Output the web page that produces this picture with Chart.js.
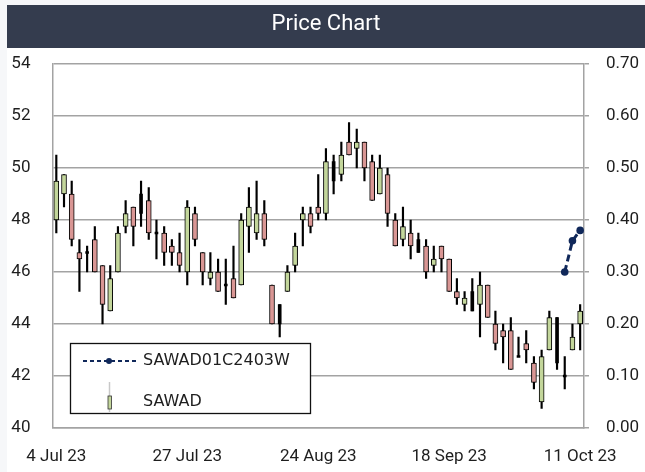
<!DOCTYPE html>
<html>
<head>
<meta charset="utf-8">
<script src="https://cdn.jsdelivr.net/npm/chart.js@4.4.0/dist/chart.umd.min.js"></script>
<style>
html,body{margin:0;padding:0;background:#f6f7f9;width:645px;height:472px;overflow:hidden}
#wrap{position:absolute;left:7px;top:5px;width:638px;height:467px;background:#ffffff}
canvas{display:block}
</style>
</head>
<body>
<div id="wrap"><canvas id="c" width="638" height="467" style="width:638px;height:467px"></canvas></div>
<script>
// ---------------- DATA ----------------
const dates = [
  '4 Jul 23','5 Jul 23','6 Jul 23','7 Jul 23','10 Jul 23','11 Jul 23','12 Jul 23','13 Jul 23','14 Jul 23',
  '17 Jul 23','18 Jul 23','19 Jul 23','20 Jul 23','21 Jul 23','24 Jul 23','25 Jul 23','26 Jul 23','27 Jul 23',
  '31 Jul 23','2 Aug 23','3 Aug 23','4 Aug 23','7 Aug 23','8 Aug 23','9 Aug 23','10 Aug 23','11 Aug 23',
  '15 Aug 23','16 Aug 23','17 Aug 23','18 Aug 23','21 Aug 23','22 Aug 23','23 Aug 23','24 Aug 23','25 Aug 23',
  '28 Aug 23','29 Aug 23','30 Aug 23','31 Aug 23','1 Sep 23','4 Sep 23','5 Sep 23','6 Sep 23','7 Sep 23',
  '8 Sep 23','11 Sep 23','12 Sep 23','13 Sep 23','14 Sep 23','15 Sep 23','18 Sep 23','19 Sep 23','20 Sep 23',
  '21 Sep 23','22 Sep 23','25 Sep 23','26 Sep 23','27 Sep 23','28 Sep 23','29 Sep 23','2 Oct 23','3 Oct 23',
  '4 Oct 23','5 Oct 23','6 Oct 23','9 Oct 23','10 Oct 23','11 Oct 23'
];
const tickLabels = ['4 Jul 23','27 Jul 23','24 Aug 23','18 Sep 23','11 Oct 23'];

const opens = [
  48.00,49.00,49.00,46.75,46.75,47.25,46.25,44.50,46.00,47.75,48.50,49.00,48.75,47.50,47.50,47.00,46.75,46.00,
  48.25,46.75,45.75,46.00,45.50,45.75,45.50,47.75,47.50,48.25,45.50,44.75,45.25,46.25,48.00,48.25,48.50,48.25,
  50.25,49.75,51.00,50.75,51.00,50.25,49.00,49.75,48.00,47.25,47.50,47.25,47.00,46.25,47.00,46.50,45.25,44.75,
  45.25,44.75,45.50,44.00,43.75,43.75,42.75,43.25,42.50,41.00,43.00,44.25,42.00,43.00,44.00
];
const highs = [
  50.50,49.75,49.50,47.25,47.00,47.75,46.25,46.25,47.75,48.75,48.50,49.50,49.25,48.00,47.75,47.25,47.50,48.75,
  48.50,46.75,46.75,46.50,46.50,47.00,48.25,49.25,49.50,48.75,45.50,44.75,46.25,47.50,48.50,48.50,49.75,50.75,
  50.50,51.00,51.75,51.50,51.00,50.50,50.50,50.00,48.25,48.50,48.00,47.50,47.25,47.00,47.00,46.50,45.75,45.25,
  45.75,46.00,45.50,44.50,44.00,44.25,43.50,43.75,42.75,43.00,44.50,44.25,42.75,44.00,44.75
];
const lows = [
  47.50,48.50,47.00,45.25,46.00,46.00,44.00,44.50,46.00,47.50,47.00,47.75,47.25,46.50,46.25,46.25,46.00,45.50,
  47.00,45.50,45.50,45.25,44.75,45.00,45.50,46.75,47.25,47.00,44.00,43.50,45.25,46.00,47.00,47.50,48.00,48.00,
  49.00,49.50,50.50,50.00,49.50,48.75,49.00,47.75,47.00,47.00,46.50,46.75,45.75,46.00,46.00,45.25,44.75,44.50,
  44.50,43.50,44.25,43.00,42.50,42.25,42.75,42.50,41.50,40.75,43.00,42.25,41.50,43.00,43.00
];
const closes = [
  49.50,49.75,47.25,46.50,46.75,46.00,44.75,45.75,47.50,48.25,47.75,48.25,47.50,47.50,46.75,46.75,46.25,48.50,
  47.25,46.00,46.00,45.25,45.50,45.00,48.00,48.50,48.25,47.25,44.00,44.00,46.00,47.00,48.25,47.75,48.25,50.25,
  49.50,50.50,50.50,51.00,50.00,48.75,50.00,48.25,47.00,47.75,47.00,46.75,46.00,46.50,46.50,45.25,45.00,45.00,
  44.50,45.50,44.25,43.25,43.50,42.25,42.75,43.00,41.75,42.75,44.25,42.50,42.00,43.50,44.50
];

const warrantDates = ['9 Oct 23','10 Oct 23','11 Oct 23'];
const warrantValues = [0.30,0.36,0.38];

const priceMin = 40, priceMax = 54, priceStep = 2;
const wMin = 0, wMax = 0.7, wStep = 0.1;

// ---------------- STYLES ----------------
const UP = '#c3d69b', DOWN = '#d99694', NAVY = '#10285a', GRID = '#a3a3a3', TXT = '#1e1e1e';
const darkCandles = [4, 11, 13, 22, 29, 36, 47, 54, 60, 65, 66]; // drawn as solid black narrow bodies

function bodyRange(i){
  const o = opens[i], c = closes[i];
  if (o === c) return [o - 0.04, o + 0.04];
  return [o, c];
}
const bodyNormal = dates.map((d,i) => darkCandles.includes(i) ? null : bodyRange(i));
const bodyDark = dates.map((d,i) => darkCandles.includes(i) ? bodyRange(i) : null);
const bodyColors = dates.map((d,i) => closes[i] >= opens[i] ? UP : DOWN);
const wicks = dates.map((d,i) => [lows[i], highs[i]]);

const headerPlugin = {
  id: 'header',
  beforeDraw(chart){
    const ctx = chart.ctx;
    ctx.save();
    ctx.fillStyle = '#343c4e';
    ctx.fillRect(0, 0, chart.width, 43);
    ctx.restore();
  }
};

const legendPlugin = {
  id: 'boxLegend',
  afterDraw(chart){
    const ctx = chart.ctx;
    const ds = chart.data.datasets;
    ctx.save();
    const bx = 63.5, by = 338.5, bw = 240, bh = 70;
    ctx.fillStyle = '#ffffff';
    ctx.fillRect(bx, by, bw, bh);
    ctx.strokeStyle = '#111';
    ctx.lineWidth = 1.3;
    ctx.strokeRect(bx, by, bw, bh);
    ctx.strokeStyle = NAVY;
    ctx.lineWidth = 2;
    ctx.setLineDash([4, 3]);
    ctx.beginPath(); ctx.moveTo(76, 356); ctx.lineTo(129, 356); ctx.stroke();
    ctx.setLineDash([]);
    ctx.fillStyle = NAVY;
    ctx.beginPath(); ctx.arc(102, 356, 3, 0, Math.PI * 2); ctx.fill();
    ctx.font = '16px "DejaVu Sans"';
    ctx.fillStyle = TXT;
    ctx.textBaseline = 'middle';
    ctx.textAlign = 'left';
    ctx.fillText(ds[0].label, 136, 356);
    ctx.strokeStyle = '#c8c8c8';
    ctx.lineWidth = 1.5;
    ctx.beginPath(); ctx.moveTo(102.5, 377); ctx.lineTo(102.5, 407); ctx.stroke();
    ctx.fillStyle = UP;
    ctx.fillRect(101, 391, 3.5, 13);
    ctx.strokeStyle = '#333';
    ctx.lineWidth = 0.8;
    ctx.strokeRect(101, 391, 3.5, 13);
    ctx.fillStyle = TXT;
    ctx.fillText(ds[1].label, 136, 397);
    ctx.restore();
  }
};

new Chart(document.getElementById('c'), {
  data: {
    labels: dates,
    datasets: [
      {
        type: 'line',
        label: 'SAWAD01C2403W',
        yAxisID: 'y2',
        data: warrantDates.map((d,i) => ({x: d, y: warrantValues[i]})),
        borderColor: NAVY,
        backgroundColor: NAVY,
        borderWidth: 3,
        borderDash: [7, 4],
        pointRadius: 3.8,
        pointBackgroundColor: NAVY,
        pointBorderWidth: 0,
        order: 0
      },
      {
        type: 'bar',
        label: 'SAWAD',
        yAxisID: 'y',
        data: bodyNormal,
        backgroundColor: bodyColors,
        borderColor: '#000',
        borderWidth: 1,
        borderSkipped: false,
        barThickness: 5,
        grouped: false,
        order: 1
      },
      {
        type: 'bar',
        label: 'SAWAD dark',
        yAxisID: 'y',
        data: bodyDark,
        backgroundColor: '#000',
        borderWidth: 0,
        barThickness: 3,
        grouped: false,
        order: 2
      },
      {
        type: 'bar',
        label: 'SAWAD range',
        yAxisID: 'y',
        data: wicks,
        backgroundColor: '#000',
        borderWidth: 0,
        barThickness: 1.5,
        grouped: false,
        order: 3
      }
    ]
  },
  options: {
    responsive: false,
    animation: false,
    devicePixelRatio: 1,
    layout: { padding: { top: 0, left: 0, right: 0, bottom: 0 } },
    plugins: {
      legend: { display: false },
      tooltip: { enabled: false },
      title: {
        display: true,
        text: 'Price Chart',
        color: '#ffffff',
        font: { family: 'Roboto', size: 22, weight: 'normal' },
        padding: { top: 6.5, bottom: 26.1 }
      }
    },
    scales: {
      x: {
        type: 'category',
        offset: true,
        grid: { display: false, drawTicks: false },
        border: { display: true, color: GRID, width: 1.5 },
        ticks: {
          autoSkip: false,
          maxRotation: 0,
          minRotation: 0,
          padding: 19,
          color: TXT,
          font: { family: 'Roboto', size: 17 },
          callback: function(v, i){ const l = this.getLabelForValue(v); return tickLabels.includes(l) ? l : ''; }
        },
        afterFit: s => { s.height = 44; }
      },
      y: {
        position: 'left',
        min: priceMin, max: priceMax,
        grid: { color: GRID, lineWidth: 1.5, drawTicks: false },
        border: { display: true, color: GRID, width: 1.5 },
        ticks: {
          stepSize: priceStep,
          padding: 22,
          color: TXT,
          font: { family: 'Roboto', size: 17 }
        },
        afterFit: s => { s.width = 44; }
      },
      y2: {
        position: 'right',
        min: wMin, max: wMax,
        grid: { drawOnChartArea: false, color: GRID, lineWidth: 1.5, tickLength: 5, drawTicks: true },
        border: { display: true, color: GRID, width: 1.5 },
        ticks: {
          stepSize: wStep,
          padding: 17,
          color: TXT,
          font: { family: 'Roboto', size: 17 },
          callback: v => Number(v).toFixed(2)
        },
        afterFit: s => { s.width = 61; }
      }
    }
  },
  plugins: [headerPlugin, legendPlugin]
});
</script>
</body>
</html>
